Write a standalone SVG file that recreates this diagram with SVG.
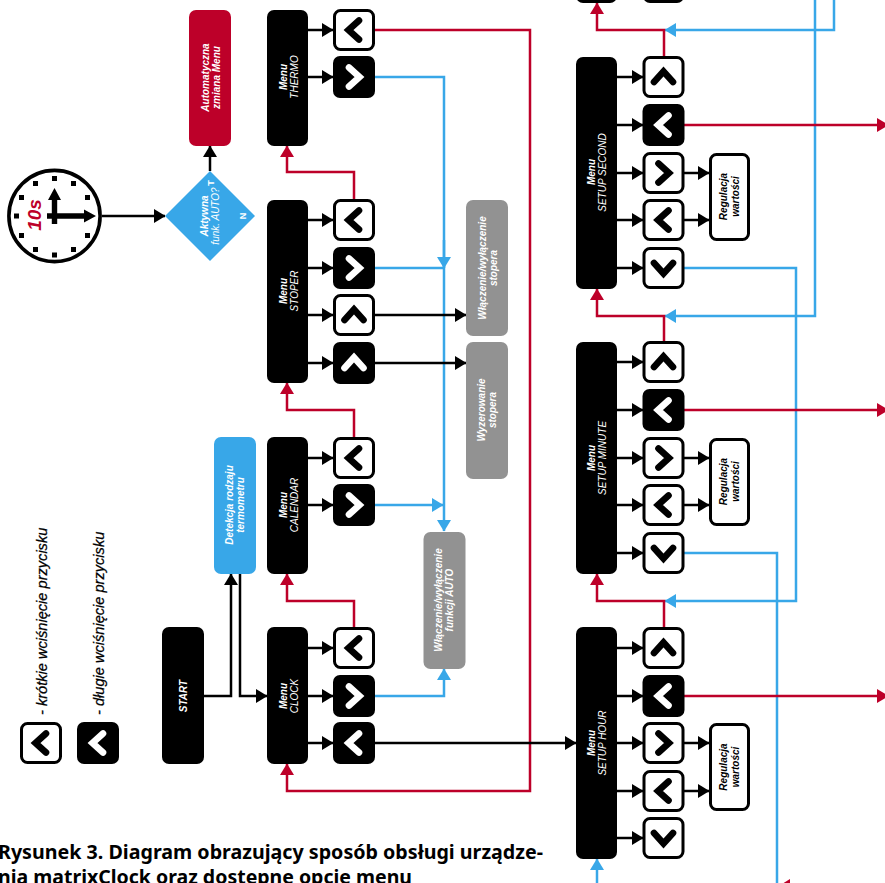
<svg xmlns="http://www.w3.org/2000/svg" width="885" height="883" viewBox="0 0 885 883">
<style>
.t{font-family:"Liberation Sans",Arial,sans-serif;font-style:italic;font-size:10px;text-anchor:middle}
.w{fill:#fff}.k{fill:#000}
.b{font-weight:bold}
.box{fill:#000}.gray{fill:#929292}
.btn{fill:#fff;stroke:#000;stroke-width:3}
.chev{fill:none;stroke-width:6.6;stroke-linecap:round;stroke-linejoin:miter}
.con{fill:none;stroke-width:2.5}
.blk{stroke:#000}.red{stroke:#bd0029}.blu{stroke:#38a7e8}
.cap{font-family:"Noto Sans","Open Sans",sans-serif;font-weight:bold;font-size:19.2px}
.leg{font-family:"Liberation Sans",Arial,sans-serif;font-style:italic;font-size:14.6px;fill:#000;stroke:#000;stroke-width:.25}
</style>
<defs>
<marker id="ak" markerUnits="userSpaceOnUse" markerWidth="12" markerHeight="14" refX="11" refY="7" orient="auto"><path d="M0 0L11.500 7L0 14Z" fill="#000"/></marker>
<marker id="ar" markerUnits="userSpaceOnUse" markerWidth="12" markerHeight="14" refX="11" refY="7" orient="auto"><path d="M0 0L11.500 7L0 14Z" fill="#bd0029"/></marker>
<marker id="ab" markerUnits="userSpaceOnUse" markerWidth="12" markerHeight="14" refX="11" refY="7" orient="auto"><path d="M0 0L11.500 7L0 14Z" fill="#38a7e8"/></marker>
<path id="L" d="M5 -9.500L-5.500 0L5 9.500"/>
<path id="R" d="M-5 -9.500L5.500 0L-5 9.500"/>
<path id="U" d="M-9.500 5L0 -5.500L9.500 5"/>
<path id="D" d="M-9.500 -5L0 5.500L9.500 -5"/>
<rect id="wb" x="-19.500" y="-19.500" width="39" height="39" rx="6" class="btn"/>
<rect id="kb" x="-21" y="-21" width="42" height="42" rx="7" class="box"/>
</defs>
<g id="connectors">
<g class="con blu">
<path d="M375 77H444V531" marker-end="url(#ab)"/>
<path d="M375 268H444"/>
<path d="M444 240V268" marker-end="url(#ab)"/>
<path d="M375 505H443" marker-end="url(#ab)"/>
<path d="M375 696H444V669" marker-end="url(#ab)"/>
<path d="M684 268H796V601H665" marker-end="url(#ab)"/>
<path d="M684 553H777V883"/>
<path d="M815 0V316H665" marker-end="url(#ab)"/>
<path d="M834 0V30H665" marker-end="url(#ab)"/>
<path d="M597 883V859" marker-end="url(#ab)"/>
</g>
<g class="con red">
<path d="M354 627V601H287V574" marker-end="url(#ar)"/>
<path d="M354 437V410H287V383" marker-end="url(#ar)"/>
<path d="M354 200V172H287V146" marker-end="url(#ar)"/>
<path d="M375 30H530V791H287V764" marker-end="url(#ar)"/>
<path d="M664 57V30H597V3" marker-end="url(#ar)"/>
<path d="M664 342V316H597V289" marker-end="url(#ar)"/>
<path d="M664 627V601H597V574" marker-end="url(#ar)"/>
<path d="M684 125H888" marker-end="url(#ar)"/>
<path d="M684 410H888" marker-end="url(#ar)"/>
<path d="M684 696H888" marker-end="url(#ar)"/>
</g>
<g class="con blk">
<path d="M102 216H165" marker-end="url(#ak)"/>
<path d="M210 171V146" marker-end="url(#ak)"/>
<path d="M204 696H231V574" marker-end="url(#ak)"/>
<path d="M240 574V696H267" marker-end="url(#ak)"/>
<path d="M308 30H333" marker-end="url(#ak)"/><path d="M308 77H333" marker-end="url(#ak)"/>
<path d="M308 220H333" marker-end="url(#ak)"/><path d="M308 268H333" marker-end="url(#ak)"/><path d="M308 315H333" marker-end="url(#ak)"/><path d="M308 363H333" marker-end="url(#ak)"/>
<path d="M308 458H333" marker-end="url(#ak)"/><path d="M308 505H333" marker-end="url(#ak)"/>
<path d="M308 648H333" marker-end="url(#ak)"/><path d="M308 696H333" marker-end="url(#ak)"/><path d="M308 743H333" marker-end="url(#ak)"/>
<path d="M375 315H466" marker-end="url(#ak)"/><path d="M375 363H466" marker-end="url(#ak)"/>
<path d="M375 743H576" marker-end="url(#ak)"/>
<path d="M617 77H643" marker-end="url(#ak)"/><path d="M617 125H643" marker-end="url(#ak)"/><path d="M617 173H643" marker-end="url(#ak)"/><path d="M617 220H643" marker-end="url(#ak)"/><path d="M617 268H643" marker-end="url(#ak)"/>
<path d="M617 362H643" marker-end="url(#ak)"/><path d="M617 410H643" marker-end="url(#ak)"/><path d="M617 458H643" marker-end="url(#ak)"/><path d="M617 505H643" marker-end="url(#ak)"/><path d="M617 553H643" marker-end="url(#ak)"/>
<path d="M617 648H643" marker-end="url(#ak)"/><path d="M617 696H643" marker-end="url(#ak)"/><path d="M617 743H643" marker-end="url(#ak)"/><path d="M617 791H643" marker-end="url(#ak)"/><path d="M617 838H643" marker-end="url(#ak)"/>
<path d="M684 173H709" marker-end="url(#ak)"/><path d="M684 220H709" marker-end="url(#ak)"/>
<path d="M684 458H709" marker-end="url(#ak)"/><path d="M684 505H709" marker-end="url(#ak)"/>
<path d="M684 743H709" marker-end="url(#ak)"/><path d="M684 791H709" marker-end="url(#ak)"/>
</g>
<path d="M790 879L782 884H790Z" fill="#bd0029"/>
</g>

<g id="clock">
<circle cx="54.500" cy="216" r="45.600" fill="#fff" stroke="#000" stroke-width="3.600"/>
<g fill="#000">
<rect x="52" y="176" width="5" height="5"/><rect x="71" y="181" width="5" height="5"/><rect x="85" y="195" width="5" height="5"/>
<rect x="85" y="233" width="5" height="5"/><rect x="71" y="247" width="5" height="5"/><rect x="52" y="252.500" width="5" height="5"/>
<rect x="33" y="247" width="5" height="5"/><rect x="19" y="233" width="5" height="5"/><rect x="14" y="213.500" width="5" height="5"/><rect x="19" y="195" width="5" height="5"/><rect x="33" y="181" width="5" height="5"/>
<path d="M51.800 224V200H48L54.500 188L61 200H57.200V224Z"/>
<path d="M47 213.300H84V209.500L96 216L84 222.500V218.700H47Z"/>
</g>
<text transform="translate(40.500 215) rotate(-90)" font-family="Liberation Sans,Arial,sans-serif" font-weight="bold" font-style="italic" font-size="19" text-anchor="middle" fill="#bd0029">10s</text>
</g>

<g id="decision">
<path d="M165 216L210 171L255 216L210 261Z" fill="#38a7e8"/>
<text class="t w b" transform="translate(208 216) rotate(-90)">Aktywna</text>
<text class="t w" transform="translate(219 216) rotate(-90)">funk. AUTO?</text>
<text class="t w b" style="font-style:normal;font-size:9px" transform="translate(213.500 183) rotate(-90)">T</text>
<text class="t w b" style="font-style:normal;font-size:9px" transform="translate(246 216) rotate(-90)">N</text>
</g>
<g id="auto-menu">
<rect x="189" y="10" width="42" height="136" rx="7" fill="#bd0029"/>
<text class="t w b" transform="translate(209 77.500) rotate(-90)">Automatyczna</text>
<text class="t w b" transform="translate(220 77.500) rotate(-90)">zmiana Menu</text>
</g>
<g id="detect">
<rect x="214" y="437" width="42" height="137" rx="7" fill="#38a7e8"/>
<text class="t w b" transform="translate(233 505) rotate(-90)">Detekcja rodzaju</text>
<text class="t w b" transform="translate(244 505) rotate(-90)">termometru</text>
</g>
<g id="start">
<rect x="162" y="627" width="42" height="137" rx="7" class="box"/>
<text class="t w b" transform="translate(187 696) rotate(-90)">START</text>
</g>

<g id="menu-thermo">
<rect x="267" y="10" width="41" height="136" rx="7" class="box"/>
<text class="t w b" transform="translate(287 77) rotate(-90)">Menu</text>
<text class="t w" transform="translate(297.500 77) rotate(-90)">THERMO</text>
</g>
<g id="menu-stoper">
<rect x="267" y="200" width="41" height="183" rx="7" class="box"/>
<text class="t w b" transform="translate(287 291) rotate(-90)">Menu</text>
<text class="t w" transform="translate(297.500 291) rotate(-90)">STOPER</text>
</g>
<g id="menu-calendar">
<rect x="267" y="437" width="41" height="137" rx="7" class="box"/>
<text class="t w b" transform="translate(287 505) rotate(-90)">Menu</text>
<text class="t w" transform="translate(297.500 505) rotate(-90)">CALENDAR</text>
</g>
<g id="menu-clock">
<rect x="267" y="627" width="41" height="137" rx="7" class="box"/>
<text class="t w b" transform="translate(287 696) rotate(-90)">Menu</text>
<text class="t w" transform="translate(297.500 696) rotate(-90)">CLOCK</text>
</g>

<g id="btn-thermo-1" transform="translate(354 30)"><use href="#wb"/><use href="#L" class="chev" stroke="#000"/></g>
<g id="btn-thermo-2" transform="translate(354 77)"><use href="#kb"/><use href="#R" class="chev" stroke="#fff"/></g>
<g id="btn-stoper-1" transform="translate(354 220)"><use href="#wb"/><use href="#L" class="chev" stroke="#000"/></g>
<g id="btn-stoper-2" transform="translate(354 268)"><use href="#kb"/><use href="#R" class="chev" stroke="#fff"/></g>
<g id="btn-stoper-3" transform="translate(354 315)"><use href="#wb"/><use href="#U" class="chev" stroke="#000"/></g>
<g id="btn-stoper-4" transform="translate(354 363)"><use href="#kb"/><use href="#U" class="chev" stroke="#fff"/></g>
<g id="btn-calendar-1" transform="translate(354 458)"><use href="#wb"/><use href="#L" class="chev" stroke="#000"/></g>
<g id="btn-calendar-2" transform="translate(354 505)"><use href="#kb"/><use href="#R" class="chev" stroke="#fff"/></g>
<g id="btn-clock-1" transform="translate(354 648)"><use href="#wb"/><use href="#L" class="chev" stroke="#000"/></g>
<g id="btn-clock-2" transform="translate(354 696)"><use href="#kb"/><use href="#R" class="chev" stroke="#fff"/></g>
<g id="btn-clock-3" transform="translate(354 743)"><use href="#kb"/><use href="#L" class="chev" stroke="#fff"/></g>

<g id="act-stoper-1">
<rect x="466" y="200" width="42" height="136" rx="7" class="gray"/>
<text class="t w b" transform="translate(486 268) rotate(-90)">Włączenie/wyłączenie</text>
<text class="t w b" transform="translate(497 268) rotate(-90)">stopera</text>
</g>
<g id="act-stoper-2">
<rect x="466" y="342" width="42" height="137" rx="7" class="gray"/>
<text class="t w b" transform="translate(485 410) rotate(-90)">Wyzerowanie</text>
<text class="t w b" transform="translate(496 410) rotate(-90)">stopera</text>
</g>
<g id="act-auto">
<rect x="423.500" y="532" width="42" height="137" rx="7" class="gray"/>
<text class="t w b" transform="translate(442 600) rotate(-90)">Włączenie/wyłączenie</text>
<text class="t w b" transform="translate(453 600) rotate(-90)">funkcji AUTO</text>
</g>

<g id="top-menu"><rect x="576" y="-20" width="41" height="23" rx="7" class="box"/></g>
<g id="top-btn"><rect x="643" y="-20" width="41" height="23" rx="7" class="box"/></g>

<g id="menu-second">
<rect x="576" y="57" width="41" height="232" rx="7" class="box"/>
<text class="t w b" transform="translate(595 172) rotate(-90)">Menu</text>
<text class="t w" transform="translate(606 172.500) rotate(-90)">SETUP SECOND</text>
</g>
<g id="menu-minute">
<rect x="576" y="342" width="41" height="232" rx="7" class="box"/>
<text class="t w b" transform="translate(595 458) rotate(-90)">Menu</text>
<text class="t w" transform="translate(606 458) rotate(-90)">SETUP MINUTE</text>
</g>
<g id="menu-hour">
<rect x="576" y="627" width="41" height="232" rx="7" class="box"/>
<text class="t w b" transform="translate(595 743) rotate(-90)">Menu</text>
<text class="t w" transform="translate(606 743) rotate(-90)">SETUP HOUR</text>
</g>

<g id="btn-second-1" transform="translate(663.500 77)"><use href="#wb"/><use href="#U" class="chev" stroke="#000"/></g>
<g id="btn-second-2" transform="translate(663.500 125)"><use href="#kb"/><use href="#L" class="chev" stroke="#fff"/></g>
<g id="btn-second-3" transform="translate(663.500 173)"><use href="#wb"/><use href="#R" class="chev" stroke="#000"/></g>
<g id="btn-second-4" transform="translate(663.500 220)"><use href="#wb"/><use href="#L" class="chev" stroke="#000"/></g>
<g id="btn-second-5" transform="translate(663.500 268)"><use href="#wb"/><use href="#D" class="chev" stroke="#000"/></g>
<g id="btn-minute-1" transform="translate(663.500 362)"><use href="#wb"/><use href="#U" class="chev" stroke="#000"/></g>
<g id="btn-minute-2" transform="translate(663.500 410)"><use href="#kb"/><use href="#L" class="chev" stroke="#fff"/></g>
<g id="btn-minute-3" transform="translate(663.500 458)"><use href="#wb"/><use href="#R" class="chev" stroke="#000"/></g>
<g id="btn-minute-4" transform="translate(663.500 505)"><use href="#wb"/><use href="#L" class="chev" stroke="#000"/></g>
<g id="btn-minute-5" transform="translate(663.500 553)"><use href="#wb"/><use href="#D" class="chev" stroke="#000"/></g>
<g id="btn-hour-1" transform="translate(663.500 648)"><use href="#wb"/><use href="#U" class="chev" stroke="#000"/></g>
<g id="btn-hour-2" transform="translate(663.500 696)"><use href="#kb"/><use href="#L" class="chev" stroke="#fff"/></g>
<g id="btn-hour-3" transform="translate(663.500 743)"><use href="#wb"/><use href="#R" class="chev" stroke="#000"/></g>
<g id="btn-hour-4" transform="translate(663.500 791)"><use href="#wb"/><use href="#L" class="chev" stroke="#000"/></g>
<g id="btn-hour-5" transform="translate(663.500 838)"><use href="#wb"/><use href="#D" class="chev" stroke="#000"/></g>

<g id="reg-second">
<rect x="710.500" y="154.500" width="38" height="85" rx="6" class="btn"/>
<text class="t k b" transform="translate(727 196.500) rotate(-90)">Regulacja</text>
<text class="t k b" transform="translate(739 196.500) rotate(-90)">wartości</text>
</g>
<g id="reg-minute">
<rect x="710.500" y="439.500" width="38" height="85" rx="6" class="btn"/>
<text class="t k b" transform="translate(727 481.500) rotate(-90)">Regulacja</text>
<text class="t k b" transform="translate(739 481.500) rotate(-90)">wartości</text>
</g>
<g id="reg-hour">
<rect x="710.500" y="724.500" width="38" height="85" rx="6" class="btn"/>
<text class="t k b" transform="translate(727 767) rotate(-90)">Regulacja</text>
<text class="t k b" transform="translate(739 767) rotate(-90)">wartości</text>
</g>

<g id="legend">
<g transform="translate(41 743)"><use href="#wb"/><use href="#L" class="chev" stroke="#000"/></g>
<g transform="translate(98 743)"><use href="#kb"/><use href="#L" class="chev" stroke="#fff"/></g>
<text class="leg" transform="translate(47 715) rotate(-90)">- krótkie wciśnięcie przycisku</text>
<text class="leg" transform="translate(104 715) rotate(-90)">- długie wciśnięcie przycisku</text>
</g>

<text class="cap" x="-2" y="859" textLength="545" lengthAdjust="spacingAndGlyphs">Rysunek 3. Diagram obrazujący sposób obsługi urządze-</text>
<text class="cap" x="-2" y="884" textLength="414" lengthAdjust="spacingAndGlyphs">nia matrixClock oraz dostępne opcje menu</text>
</svg>
